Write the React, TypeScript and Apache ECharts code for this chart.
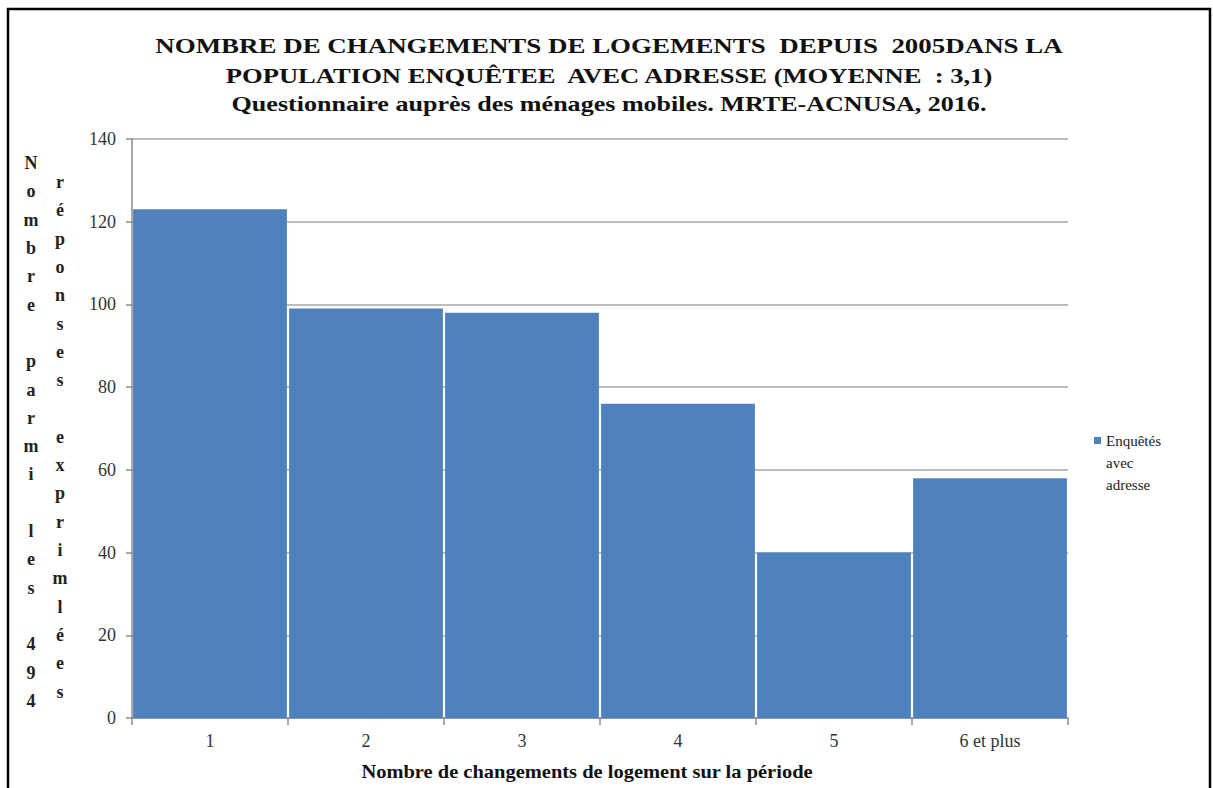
import React, { useEffect, useRef } from "react";
import * as echarts from "echarts";

const categories = ["1", "2", "3", "4", "5", "6 et plus"];
const values = [123, 99, 98, 76, 40, 58];
const seriesName = "Enquêtés avec adresse";
const legendLines = ["Enquêtés", "avec", "adresse"];
const titleLines = [
  "NOMBRE DE CHANGEMENTS DE LOGEMENTS  DEPUIS  2005DANS LA",
  "POPULATION ENQUÊTEE  AVEC ADRESSE (MOYENNE  : 3,1)",
  "Questionnaire auprès des ménages mobiles. MRTE-ACNUSA, 2016.",
];
const yTitleCol1 = "Nombre parmi les 494";
const yTitleCol2 = "réponses exprimlées";
const xTitle = "Nombre de changements de logement sur la période";

const SERIF = "Liberation Serif, Times New Roman, serif";

function measure(text: string, font: string): number {
  const ctx = document.createElement("canvas").getContext("2d");
  if (!ctx) return text.length * 10;
  ctx.font = font;
  return ctx.measureText(text).width;
}

export default function App() {
  const ref = useRef<HTMLDivElement>(null);
  useEffect(() => {
    document.body.style.margin = "0";
    document.body.style.overflow = "hidden";
    const chart = echarts.init(ref.current!, null, { renderer: "svg" });

    const titleFont = `bold 21px ${SERIF}`;
    const titleTargets = [908, 770, 755];
    const titleYs = [46, 76, 104];
    const titleGraphics = titleLines.map((t, i) => ({
      type: "text",
      x: 609,
      y: titleYs[i],
      scaleX: titleTargets[i] / measure(t, titleFont),
      style: {
        text: t,
        x: 0,
        y: 0,
        textAlign: "center",
        textVerticalAlign: "middle",
        font: titleFont,
        fill: "#111",
      },
    }));

    const xFont = `bold 18px ${SERIF}`;
    const xTitleScale = 452 / measure(xTitle, xFont);

    const stack = (s: string) => s.split("").join("\n");

    chart.setOption({
      animation: false,
      backgroundColor: "#fff",
      grid: { left: 132, right: 145, top: 139, bottom: 70, containLabel: false },
      xAxis: {
        type: "category",
        data: categories,
        axisLine: { lineStyle: { color: "#8c8c8c", width: 1.5 } },
        axisTick: { show: true, length: 7, lineStyle: { color: "#8c8c8c", width: 1.5 } },
        axisLabel: { color: "#333", fontFamily: SERIF, fontSize: 18, margin: 14 },
      },
      yAxis: {
        type: "value",
        min: 0,
        max: 140,
        interval: 20,
        axisLine: { show: true, lineStyle: { color: "#8c8c8c", width: 1.5 } },
        axisTick: { show: true, length: 6, lineStyle: { color: "#8c8c8c", width: 1.5 } },
        axisLabel: { color: "#333", fontFamily: SERIF, fontSize: 18, margin: 16 },
        splitLine: { lineStyle: { color: "#a6a6a6", width: 1.5 } },
      },
      series: [
        {
          name: seriesName,
          type: "bar",
          data: values,
          barCategoryGap: "1.4%",
          itemStyle: { color: "#4f81bd" },
        },
      ],
      graphic: [
        {
          type: "rect",
          shape: { x: 8, y: 9, width: 1202, height: 820 },
          style: { fill: "none", stroke: "#000", lineWidth: 2.5 },
          silent: true,
        },
        ...titleGraphics,
        {
          type: "text",
          x: 31,
          y: 149,
          style: {
            text: stack(yTitleCol1),
            x: 0,
            y: 0,
            textAlign: "center",
            textVerticalAlign: "top",
            font: `bold 18px ${SERIF}`,
            lineHeight: 28.3,
            fill: "#222",
          },
        },
        {
          type: "text",
          x: 60,
          y: 168,
          style: {
            text: stack(yTitleCol2),
            x: 0,
            y: 0,
            textAlign: "center",
            textVerticalAlign: "top",
            font: `bold 18px ${SERIF}`,
            lineHeight: 28.3,
            fill: "#222",
          },
        },
        {
          type: "text",
          x: 587,
          y: 772,
          scaleX: xTitleScale,
          style: {
            text: xTitle,
            x: 0,
            y: 0,
            textAlign: "center",
            textVerticalAlign: "middle",
            font: xFont,
            fill: "#111",
          },
        },
        {
          type: "rect",
          shape: { x: 1094, y: 437, width: 7, height: 7 },
          style: { fill: "#4f81bd" },
        },
        {
          type: "text",
          x: 1106,
          y: 430,
          style: {
            text: legendLines.join("\n"),
            x: 0,
            y: 0,
            textAlign: "left",
            textVerticalAlign: "top",
            font: `15px ${SERIF}`,
            lineHeight: 22,
            fill: "#222",
          },
        },
      ],
    });
    return () => chart.dispose();
  }, []);
  return (
    <div
      ref={ref}
      style={{ position: "fixed", left: 0, top: 0, width: 1213, height: 788 }}
    />
  );
}
